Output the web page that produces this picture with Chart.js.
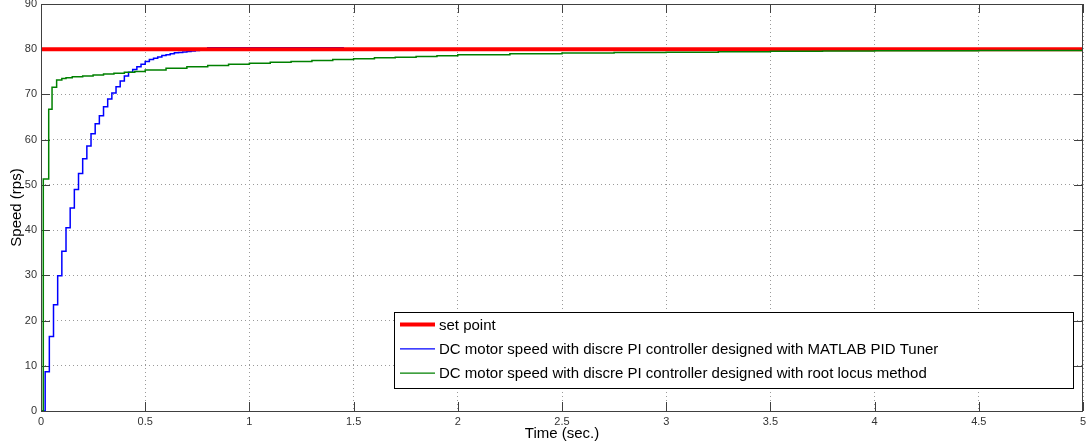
<!DOCTYPE html>
<html>
<head>
<meta charset="utf-8">
<script src="https://cdn.jsdelivr.net/npm/chart.js@4"></script>
<style>
html, body { margin: 0; padding: 0; background: #fff; }
</style>
</head>
<body>
<canvas id="myChart" width="1087" height="448"></canvas>
<script>
// set point
var setTime = [0, 5];
var setSpeed = [80, 80];

// PI controller from MATLAB PID Tuner (sample time 0.02 s, zero order hold)
var tunerTime = [0, 0.02, 0.04, 0.06, 0.08, 0.10, 0.12, 0.14, 0.16, 0.18, 0.20,
    0.22, 0.24, 0.26, 0.28, 0.30, 0.32, 0.34, 0.36, 0.38, 0.40,
    0.42, 0.44, 0.46, 0.48, 0.50, 0.52, 0.54, 0.56, 0.58, 0.60,
    0.62, 0.64, 0.66, 0.68, 0.70, 0.72, 0.74, 0.76, 0.78, 0.80, 1.45, 5];
var tunerSpeed = [0, 8.7, 16.5, 23.5, 29.9, 35.3, 40.5, 44.9, 49.0, 52.5, 55.8,
    58.6, 61.3, 63.5, 65.3, 67.3, 69.0, 70.3, 71.7, 73.0, 74.1,
    74.9, 75.5, 76.1, 76.7, 77.3, 77.7, 78.0, 78.3, 78.6, 78.8,
    79.0, 79.2, 79.3, 79.4, 79.5, 79.6, 79.7, 79.8, 79.9, 80.3, 80.0, 80.0];

// PI controller from root locus
var locusTime = [0, 0.011, 0.037, 0.053, 0.075, 0.1, 0.12, 0.15, 0.2, 0.25, 0.3,
    0.35, 0.4, 0.45, 0.5, 0.6, 0.7, 0.8, 0.9, 1.0, 1.1, 1.2, 1.3, 1.4, 1.5,
    1.6, 1.7, 1.8, 1.9, 2.0, 2.25, 2.5, 2.75, 3.0, 3.25, 3.5, 3.75, 4.0, 4.5, 5];
var locusSpeed = [0, 51.3, 66.7, 71.6, 73.2, 73.5, 73.7, 73.9, 74.1, 74.3, 74.5,
    74.7, 74.9, 75.1, 75.4, 75.8, 76.1, 76.4, 76.7, 76.9, 77.1, 77.3, 77.5, 77.7, 77.9,
    78.1, 78.25, 78.4, 78.55, 78.8, 79.0, 79.15, 79.25, 79.35, 79.45, 79.55, 79.6, 79.65, 79.7, 79.72];

var xTicks = [0, 0.5, 1, 1.5, 2, 2.5, 3, 3.5, 4, 4.5, 5];
var yTicks = [0, 10, 20, 30, 40, 50, 60, 70, 80, 90];

function toPoints(xs, ys) {
    return xs.map(function (x, i) { return {x: x, y: ys[i]}; });
}

var fontFamily = '"Liberation Sans", Arial, sans-serif';

// inward ticks + box like matlab
var framePlugin = {
    id: 'frame',
    beforeDatasetsDraw: function (chart) {
        var ctx = chart.ctx, a = chart.chartArea;
        var xs = chart.scales.x, ys = chart.scales.y;
        ctx.save();
        ctx.strokeStyle = '#404040';
        ctx.lineWidth = 1;
        ctx.beginPath();
        xTicks.forEach(function (v) {
            var px = Math.round(xs.getPixelForValue(v)) + 0.5;
            ctx.moveTo(px, a.bottom); ctx.lineTo(px, a.bottom - 9);
            ctx.moveTo(px, a.top); ctx.lineTo(px, a.top + 9);
        });
        yTicks.forEach(function (v) {
            var py = Math.round(ys.getPixelForValue(v)) + 0.5;
            ctx.moveTo(a.left, py); ctx.lineTo(a.left + 9, py);
            ctx.moveTo(a.right, py); ctx.lineTo(a.right - 9, py);
        });
        ctx.stroke();
        ctx.restore();
    },
    afterDatasetsDraw: function (chart) {
        var ctx = chart.ctx, a = chart.chartArea;
        ctx.save();
        ctx.strokeStyle = '#404040';
        ctx.lineWidth = 1;
        ctx.strokeRect(Math.round(a.left) + 0.5, Math.round(a.top) + 0.5,
            Math.round(a.right - a.left) - 1, Math.round(a.bottom - a.top));
        ctx.restore();
    },
    afterDraw: function (chart) {
        // legend box inside the plot, bottom right
        var ctx = chart.ctx, a = chart.chartArea;
        var x0 = Math.round(a.left) + 353, y0 = Math.round(a.bottom) - 99;
        var w = 679, h = 76;
        ctx.save();
        ctx.fillStyle = '#fff';
        ctx.fillRect(x0, y0, w, h);
        ctx.strokeStyle = '#000';
        ctx.lineWidth = 1;
        ctx.strokeRect(x0 + 0.5, y0 + 0.5, w, h);
        ctx.font = '15px ' + fontFamily;
        ctx.textBaseline = 'middle';
        chart.data.datasets.forEach(function (ds, i) {
            var y = y0 + 12.5 + i * 24.3;
            ctx.beginPath();
            ctx.strokeStyle = ds.borderColor;
            ctx.lineWidth = ds.borderWidth > 2 ? ds.borderWidth : 1.2;
            ctx.moveTo(x0 + 6, y);
            ctx.lineTo(x0 + 41, y);
            ctx.stroke();
            ctx.fillStyle = '#000';
            ctx.fillText(ds.label, x0 + 45, y + 1);
        });
        ctx.restore();
    }
};

var ctx = document.getElementById('myChart').getContext('2d');
var myChart = new Chart(ctx, {
    type: 'line',
    data: {
        datasets: [{
            label: 'set point',
            data: toPoints(setTime, setSpeed),
            borderColor: '#ff0000',
            borderWidth: 4,
            pointRadius: 0,
            order: 1
        }, {
            label: 'DC motor speed with discre PI controller designed with MATLAB PID Tuner',
            data: toPoints(tunerTime, tunerSpeed),
            borderColor: '#0000ff',
            borderWidth: 1.5,
            pointRadius: 0,
            stepped: 'before',
            order: 2
        }, {
            label: 'DC motor speed with discre PI controller designed with root locus method',
            data: toPoints(locusTime, locusSpeed),
            borderColor: '#008000',
            borderWidth: 1.5,
            pointRadius: 0,
            stepped: 'before',
            order: 0
        }]
    },
    options: {
        responsive: false,
        animation: false,
        layout: {
            padding: {top: 4, right: 4, left: 0, bottom: 0}
        },
        plugins: {
            legend: {display: false},
            tooltip: {enabled: false}
        },
        scales: {
            x: {
                type: 'linear',
                min: 0,
                max: 5,
                afterFit: function (s) {
                    s.height = 37;
                    s.paddingLeft = 0;
                    s.paddingRight = 0;
                },
                afterBuildTicks: function (s) {
                    s.ticks = xTicks.map(function (v) { return {value: v}; });
                },
                grid: {color: '#9a9a9a', drawTicks: false},
                border: {display: false, dash: [1, 3]},
                ticks: {
                    padding: 4,
                    color: '#333',
                    font: {family: fontFamily, size: 11},
                    maxRotation: 0,
                    callback: function (v) { return String(v); }
                },
                title: {
                    display: true,
                    text: 'Time (sec.)',
                    color: '#000',
                    font: {family: fontFamily, size: 15},
                    padding: {top: 0, bottom: 5}
                }
            },
            y: {
                min: 0,
                max: 90,
                afterFit: function (s) {
                    s.width = 41;
                    s.paddingTop = 0;
                    s.paddingBottom = 0;
                },
                afterBuildTicks: function (s) {
                    s.ticks = yTicks.map(function (v) { return {value: v}; });
                },
                grid: {color: '#9a9a9a', drawTicks: false},
                border: {display: false, dash: [1, 3]},
                ticks: {
                    padding: 4,
                    color: '#333',
                    font: {family: fontFamily, size: 11}
                },
                title: {
                    display: true,
                    text: 'Speed (rps)',
                    color: '#000',
                    font: {family: fontFamily, size: 15},
                    padding: {top: 8, bottom: 0}
                }
            }
        }
    },
    plugins: [framePlugin]
});
</script>
</body>
</html>
